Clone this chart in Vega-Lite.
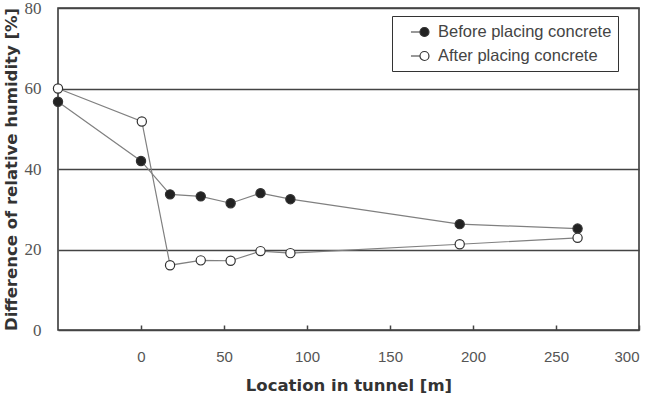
{
  "$schema": "https://vega.github.io/schema/vega-lite/v6.json",
  "width": 581,
  "height": 322,
  "autosize": {"type": "none"},
  "padding": {"left": 58, "top": 8, "right": 11, "bottom": 72},
  "background": "white",
  "config": {
    "view": {"stroke": "#3a3a3a", "strokeWidth": 1.6},
    "axis": {"labelColor": "#555", "titleFont": "DejaVu Sans", "titleColor": "#333", "titleFontWeight": "bold"}
  },
  "data": {
    "values": [
      {"x": -50, "y": 56.7, "series": "Before placing concrete"},
      {"x": 0, "y": 42.0, "series": "Before placing concrete"},
      {"x": 17.5, "y": 33.7, "series": "Before placing concrete"},
      {"x": 36, "y": 33.2, "series": "Before placing concrete"},
      {"x": 54, "y": 31.5, "series": "Before placing concrete"},
      {"x": 72, "y": 34.0, "series": "Before placing concrete"},
      {"x": 90, "y": 32.5, "series": "Before placing concrete"},
      {"x": 192, "y": 26.3, "series": "Before placing concrete"},
      {"x": 263, "y": 25.2, "series": "Before placing concrete"},
      {"x": -50, "y": 60.0, "series": "After placing concrete"},
      {"x": 0.5, "y": 51.8, "series": "After placing concrete"},
      {"x": 17.5, "y": 16.1, "series": "After placing concrete"},
      {"x": 36, "y": 17.3, "series": "After placing concrete"},
      {"x": 54, "y": 17.2, "series": "After placing concrete"},
      {"x": 72, "y": 19.6, "series": "After placing concrete"},
      {"x": 90, "y": 19.1, "series": "After placing concrete"},
      {"x": 192, "y": 21.3, "series": "After placing concrete"},
      {"x": 263, "y": 22.9, "series": "After placing concrete"}
    ]
  },
  "encoding": {
    "x": {
      "field": "x", "type": "quantitative",
      "scale": {"domain": [-50, 300], "nice": false, "zero": false},
      "axis": {"values": [0, 50, 100, 150, 200, 250, 300], "grid": false, "domain": false, "tickSize": -5, "tickColor": "#444", "tickWidth": 1.5, "labelFont": "Liberation Sans", "labelFontSize": 15, "labelPadding": 24, "title": "Location in tunnel [m]", "titleFontSize": 16.5, "titlePadding": 13}
    },
    "y": {
      "field": "y", "type": "quantitative",
      "scale": {"domain": [0, 80], "nice": false},
      "axis": {"values": [0, 20, 40, 60, 80], "grid": true, "gridColor": "#444", "gridWidth": 1.6, "domain": false, "ticks": false, "labelFont": "Liberation Sans Narrow", "labelFontSize": 17, "labelPadding": 17, "title": "Difference of relative humidity [%]", "titleFontSize": 16.5, "titlePadding": 5}
    }
  },
  "layer": [
    {
      "mark": {"type": "line", "color": "#808080", "strokeWidth": 1.2},
      "encoding": {"detail": {"field": "series", "type": "nominal"}}
    },
    {
      "mark": {"type": "point", "filled": true, "size": 85, "stroke": "#333", "strokeWidth": 1.2, "opacity": 1},
      "encoding": {
        "fill": {
          "field": "series", "type": "nominal",
          "scale": {"domain": ["Before placing concrete", "After placing concrete"], "range": ["#222", "#ffffff"]},
          "legend": {
            "title": null, "orient": "none", "legendX": 334, "legendY": 8,
            "symbolType": "M0.33,0L1.33,0M2.33,0A0.5,0.5,0,1,1,1.33,0A0.5,0.5,0,1,1,2.33,0Z",
            "symbolSize": 324, "symbolStrokeColor": "#333", "symbolStrokeWidth": 1.2, "symbolOpacity": 1,
            "labelFont": "Liberation Sans", "labelFontSize": 16.5, "labelColor": "#444", "labelOffset": 20,
            "rowPadding": 5, "padding": 6, "strokeColor": "#333", "fillColor": "white",
            "labelLimit": 300
          }
        }
      }
    }
  ]
}
